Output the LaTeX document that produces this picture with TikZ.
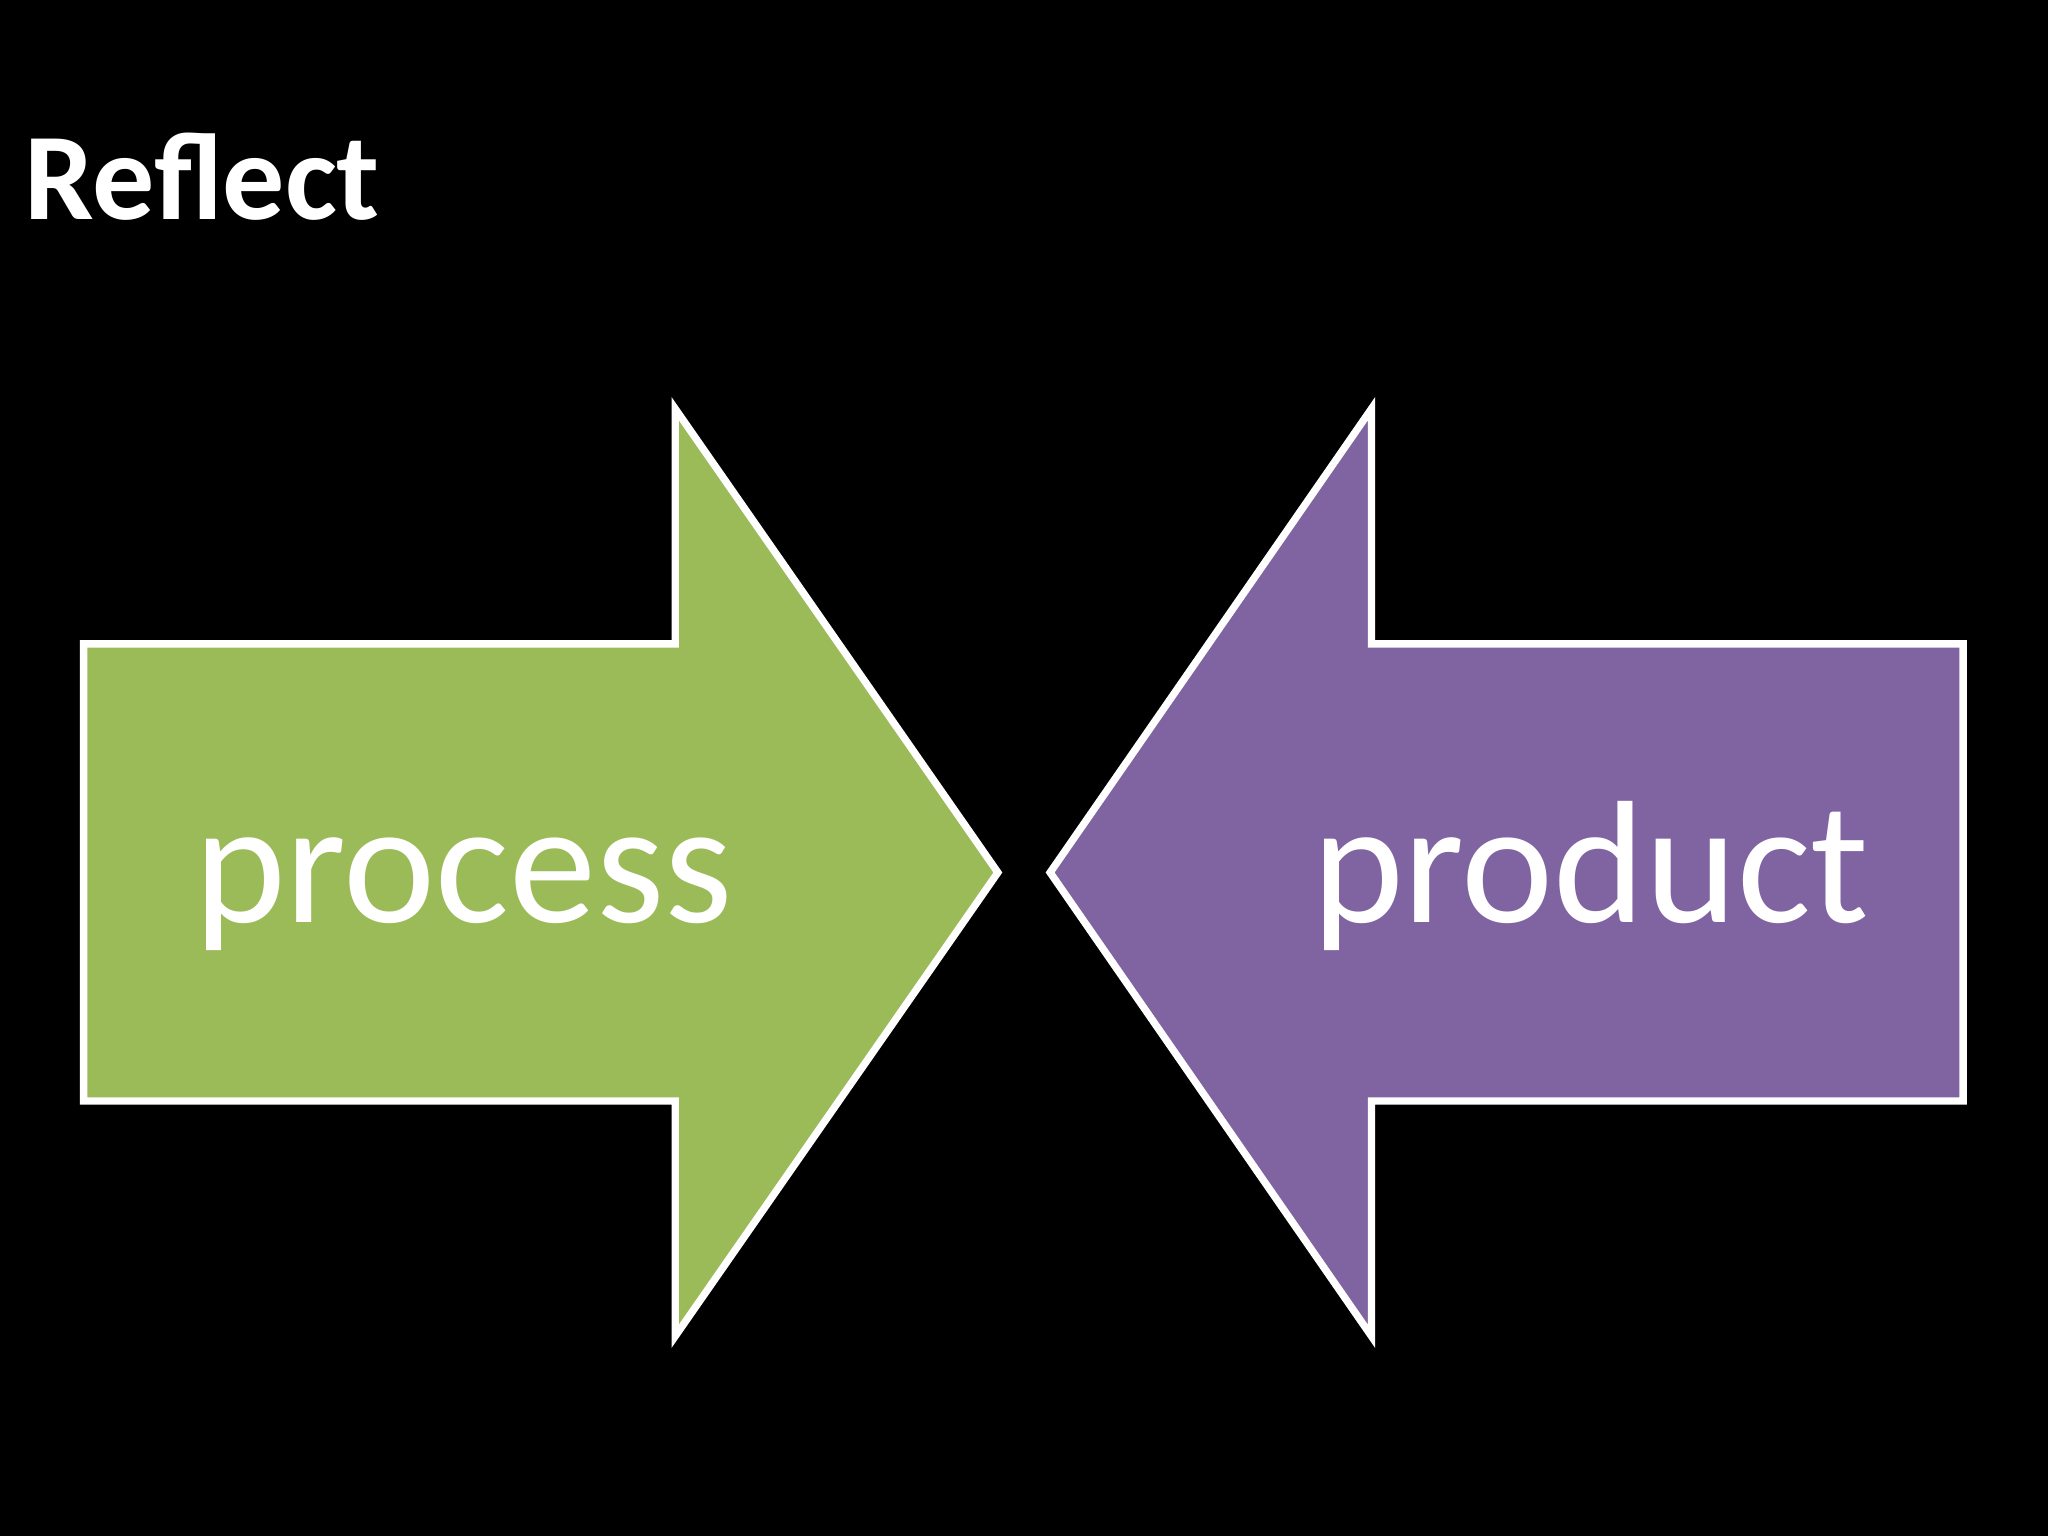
\documentclass[tikz,border=0pt]{standalone}
\usepackage{fontspec}
\setmainfont{Carlito}
\definecolor{agreen}{HTML}{9BBB59}
\definecolor{apurple}{HTML}{8064A2}
\begin{document}
\begin{tikzpicture}[x=0.01cm,y=-0.01cm,
  arr/.style={draw=white,line width=1.6pt,miter limit=20},
  lbl/.style={text=white,font=\fontsize{38}{44}\selectfont}]
\fill[black] (0,0) rectangle (1568,1176);
\useasboundingbox (0,0) rectangle (1568,1176);
\node[anchor=base west,text=white,font=\fontsize{27}{32}\selectfont\bfseries,inner sep=0] (title) at (18,168) {Reflect};
\draw[arr,fill=agreen] (64,493) -- (517,493) -- (517,313) -- (764,668) -- (517,1023) -- (517,843) -- (64,843) -- cycle;
\draw[arr,fill=apurple] (1503,493) -- (1050,493) -- (1050,313) -- (804,668) -- (1050,1023) -- (1050,843) -- (1503,843) -- cycle;
\node[lbl,anchor=base] (process) at (355,706) {process};
\node[lbl,anchor=base] (product) at (1218,706) {product};
\end{tikzpicture}
\end{document}
